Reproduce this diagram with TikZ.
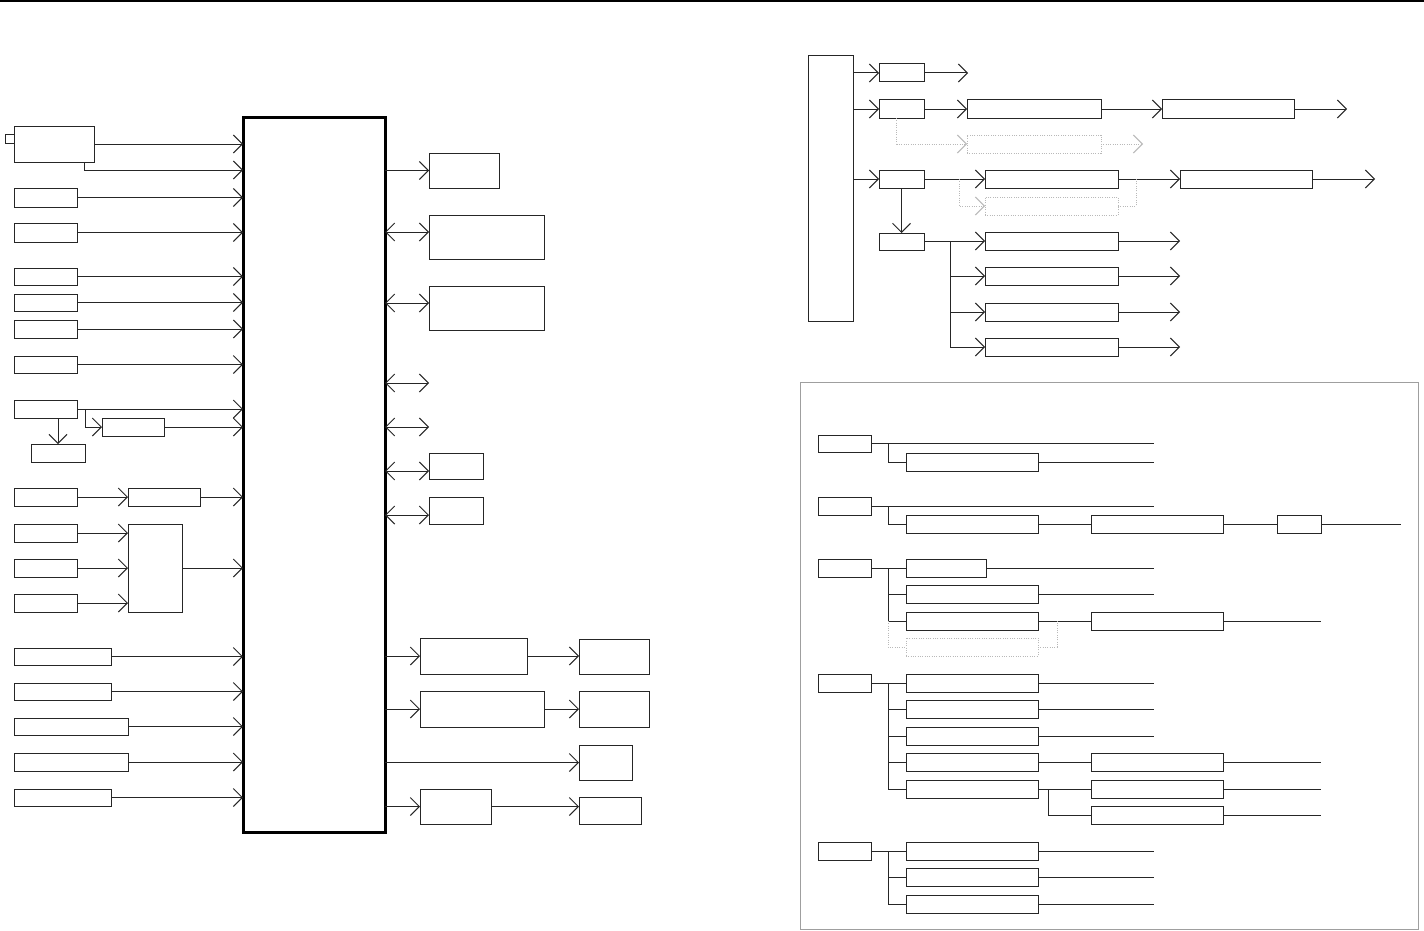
\documentclass[tikz,border=0pt]{standalone}
\usetikzlibrary{arrows.meta}
\newcommand{\mkbox}[6][]{\node[bx,#1,minimum width={0.75pt*(#5-#3)},minimum height={0.75pt*(#6-#4)}] (#2) at ({(#3+#5)/2},{(#4+#6)/2}) {};}
\begin{document}
\begin{tikzpicture}[x=0.75pt,y=-0.75pt,
 bx/.style={draw=black!85,line width=0.75pt,inner sep=0pt,outer sep=0pt,fill=white},
 dbx/.style={draw=gray!55,densely dotted},
 ln/.style={draw=black!85,line width=0.75pt},
 arr/.style={ln,-{Straight Barb[length=6.75pt,width=13.5pt]}},
 bi/.style={ln,{Straight Barb[length=6.75pt,width=13.5pt]}-{Straight Barb[length=6.75pt,width=13.5pt]}},
 dln/.style={draw=gray!55,line width=0.75pt,densely dotted},
 darr/.style={dln,-{Straight Barb[length=6.75pt,width=13.5pt]}}]
\useasboundingbox (0,0) rectangle (1424,931);
\fill[white] (0,0) rectangle (1424,931);
\draw[line width=1.9pt] (0,1.2) -- (1424,1.2);

% ---------- left part ----------
\mkbox[line width=2.25pt,draw=black]{main}{243}{117}{385}{832}
\mkbox{sq}{5}{134}{14}{143}
\mkbox{L1}{14}{126}{94}{162}
\mkbox{L2}{14}{188}{77}{207}
\mkbox{L3}{14}{223}{77}{242}
\mkbox{L4}{14}{268}{77}{285}
\mkbox{L5}{14}{294}{77}{311}
\mkbox{L6}{14}{320}{77}{338}
\mkbox{L7}{14}{356}{77}{373}
\mkbox{L8}{14}{400}{77}{418}
\mkbox{L8b}{102}{418}{164}{436}
\mkbox{L8c}{31}{444}{85}{462}
\mkbox{L9}{14}{488}{77}{506}
\mkbox{L9b}{128}{488}{200}{506}
\mkbox{L10}{14}{524}{77}{542}
\mkbox{L11}{14}{559}{77}{577}
\mkbox{L12}{14}{594}{77}{612}
\mkbox{Lmux}{128}{524}{182}{612}
\mkbox{L13}{14}{648}{111}{665}
\mkbox{L14}{14}{683}{111}{700}
\mkbox{L15}{14}{718}{128}{735}
\mkbox{L16}{14}{753}{128}{771}
\mkbox{L17}{14}{789}{111}{806}

\draw[arr] (L1.east) -- (main.west |- L1.east);
\coordinate (m170) at (243,170);
\draw[arr] ([xshift=-7.5pt]L1.south east) |- (m170);
\foreach \n in {L2,L3,L4,L5,L6,L7,L8,L13,L14,L15,L16,L17}
  \draw[arr] (\n.east) -- (main.west |- \n.east);
\draw[arr] ([xshift=6pt]L8.east) |- (L8b.west);
\draw[arr] (L8b.east) -- (main.west |- L8b.east);
\draw[arr] (L8.south -| L8c.north) -- (L8c.north);
\draw[arr] (L9.east) -- (L9b.west);
\draw[arr] (L9b.east) -- (main.west |- L9b.east);
\foreach \n in {L10,L11,L12}
  \draw[arr] (\n.east) -- (Lmux.west |- \n.east);
\draw[arr] (Lmux.east) -- (main.west |- Lmux.east);

% right of main
\mkbox{R1}{429}{153}{499}{188}
\mkbox{R2}{429}{215}{544}{259}
\mkbox{R3}{429}{286}{544}{330}
\mkbox{R4}{429}{453}{483}{479}
\mkbox{R5}{429}{497}{483}{524}
\mkbox{R6}{420}{638}{527}{674}
\mkbox{R6b}{579}{639}{649}{674}
\mkbox{R7}{420}{691}{544}{727}
\mkbox{R7b}{579}{691}{649}{727}
\mkbox{R8}{579}{745}{632}{780}
\mkbox{R9}{420}{789}{491}{824}
\mkbox{R9b}{579}{797}{641}{824}

\draw[arr] (main.east |- R1.west) -- (R1.west);
\coordinate (r2) at ([yshift=3.75pt]R2.west);
\coordinate (r3) at ([yshift=3.75pt]R3.west);
\coordinate (r4) at ([yshift=-3.75pt]R4.west);
\coordinate (r5) at ([yshift=-3.4pt]R5.west);
\coordinate (f1) at (429,383);
\coordinate (f2) at (429,427);
\foreach \c in {r2,r3,f1,f2,r4,r5}
  \draw[bi] (main.east |- \c) -- (\c);
\draw[arr] (main.east |- R6.west) -- (R6.west);
\draw[arr] (R6.east) -- (R6b.west |- R6.east);
\draw[arr] (main.east |- R7.west) -- (R7.west);
\draw[arr] (R7.east) -- (R7b.west |- R7.east);
\draw[arr] (main.east |- R8.west) -- (R8.west);
\draw[arr] (main.east |- R9.west) -- (R9.west);
\draw[arr] (R9.east) -- (R9b.west |- R9.east);

% ---------- right top ----------
\mkbox{T0}{808}{56}{853}{321}
\mkbox{Ta}{879}{64}{924}{82}
\mkbox{Tb}{879}{100}{924}{118}
\mkbox{Tb2}{967}{100}{1101}{118}
\mkbox{Tb3}{1162}{100}{1294}{118}
\mkbox[dbx]{Tbd}{967}{135}{1101}{153}
\mkbox{Tc}{879}{170}{924}{188}
\mkbox{Tc2}{985}{170}{1118}{188}
\mkbox{Tc3}{1180}{170}{1312}{188}
\mkbox[dbx]{Tcd}{985}{197}{1118}{215}
\mkbox{Td}{879}{233}{924}{250}
\mkbox{Te1}{985}{232}{1118}{250}
\mkbox{Te2}{985}{267}{1118}{285}
\mkbox{Te3}{985}{303}{1118}{321}
\mkbox{Te4}{985}{338}{1118}{356}

\draw[arr] (T0.east |- Ta.west) -- (Ta.west);
\coordinate (ta) at (968,73);
\draw[arr] (Ta.east) -- (ta);
\draw[arr] (T0.east |- Tb.west) -- (Tb.west);
\draw[arr] (Tb.east) -- (Tb2.west);
\draw[arr] (Tb2.east) -- (Tb3.west);
\coordinate (tb) at (1347,109);
\draw[arr] (Tb3.east) -- (tb);
\draw[darr] ([xshift=-3.4pt]Tb.south) |- (Tbd.west);
\coordinate (tbd) at (1143,144);
\draw[darr] (Tbd.east) -- (tbd);
\draw[arr] (T0.east |- Tc.west) -- (Tc.west);
\draw[arr] (Tc.east) -- (Tc2.west);
\draw[arr] (Tc2.east) -- (Tc3.west);
\coordinate (tc) at (1375,179);
\draw[arr] (Tc3.east) -- (tc);
\coordinate (tcs) at (959,179);
\draw[darr] (tcs) |- (Tcd.west);
\coordinate (tce) at (1136,179);
\draw[dln] (Tcd.east) -| (tce);
\draw[arr] (Tc.south) -- (Td.north);
\coordinate (tr) at (950,241);
\draw[ln] (Td.east) -- (tr |- Td.east) -- (tr |- Te4.west);
\coordinate (teo) at (1180,241);
\foreach \n in {Te1,Te2,Te3,Te4}{
  \draw[arr] (tr |- \n.west) -- (\n.west);
  \draw[arr] (\n.east) -- (teo |- \n.east);
}

% ---------- framed list ----------
\mkbox[draw=gray!75,fill=none]{frame}{800}{382}{1418}{929}
\coordinate (gt) at (888,0);
\coordinate (gend) at (1154,0);
\coordinate (gend2) at (1321,0);
\coordinate (gend3) at (1401,0);

\mkbox{g1}{818}{435}{871}{452}
\mkbox{g1a}{906}{453}{1038}{471}
\draw[ln] (g1.east) -- (g1.east -| gend);
\draw[ln] (g1.east -| gt) |- (g1a.west);
\draw[ln] (g1a.east) -- (g1a.east -| gend);

\mkbox{g2}{818}{497}{871}{515}
\mkbox{g2a}{906}{515}{1038}{533}
\mkbox{g2b}{1091}{515}{1223}{533}
\mkbox{g2c}{1277}{515}{1321}{533}
\draw[ln] (g2.east) -- (g2.east -| gend);
\draw[ln] (g2.east -| gt) |- (g2a.west);
\draw[ln] (g2a.east) -- (g2b.west);
\draw[ln] (g2b.east) -- (g2c.west);
\draw[ln] (g2c.east) -- (g2c.east -| gend3);

\mkbox{g3}{818}{559}{871}{577}
\mkbox{g3a}{906}{559}{986}{577}
\mkbox{g3b}{906}{585}{1038}{603}
\mkbox{g3c}{906}{612}{1038}{630}
\mkbox{g3d}{1091}{612}{1223}{630}
\mkbox[dbx]{g3e}{906}{638}{1038}{656}
\draw[ln] (g3.east) -- (g3a.west);
\draw[ln] (g3a.east) -- (g3a.east -| gend);
\draw[ln] (g3.east -| gt) |- (g3b.west);
\draw[ln] (g3.east -| gt) |- (g3c.west);
\draw[ln] (g3b.east) -- (g3b.east -| gend);
\draw[ln] (g3c.east) -- (g3d.west);
\draw[ln] (g3d.east) -- (g3d.east -| gend2);
\coordinate (g3x) at (1057,0);
\draw[dln] (g3c.west -| gt) |- (g3e.west);
\draw[dln] (g3e.east) -| (g3c.east -| g3x);

\mkbox{g4}{818}{674}{871}{692}
\mkbox{g4a}{906}{674}{1038}{692}
\mkbox{g4b}{906}{700}{1038}{718}
\mkbox{g4c}{906}{727}{1038}{745}
\mkbox{g4d}{906}{753}{1038}{771}
\mkbox{g4e}{906}{780}{1038}{798}
\mkbox{g4d2}{1091}{753}{1223}{771}
\mkbox{g4e2}{1091}{780}{1223}{798}
\mkbox{g4e3}{1091}{806}{1223}{824}
\draw[ln] (g4.east) -- (g4a.west);
\foreach \n in {g4b,g4c,g4d,g4e}
  \draw[ln] (g4.east -| gt) |- (\n.west);
\foreach \n in {g4a,g4b,g4c}
  \draw[ln] (\n.east) -- (\n.east -| gend);
\draw[ln] (g4d.east) -- (g4d2.west);
\draw[ln] (g4e.east) -- (g4e2.west);
\coordinate (g4x) at (1048,0);
\draw[ln] (g4e.east -| g4x) |- (g4e3.west);
\foreach \n in {g4d2,g4e2,g4e3}
  \draw[ln] (\n.east) -- (\n.east -| gend2);

\mkbox{g5}{818}{842}{871}{860}
\mkbox{g5a}{906}{842}{1038}{860}
\mkbox{g5b}{906}{868}{1038}{886}
\mkbox{g5c}{906}{895}{1038}{913}
\draw[ln] (g5.east) -- (g5a.west);
\foreach \n in {g5b,g5c}
  \draw[ln] (g5.east -| gt) |- (\n.west);
\foreach \n in {g5a,g5b,g5c}
  \draw[ln] (\n.east) -- (\n.east -| gend);
\end{tikzpicture}
\end{document}
